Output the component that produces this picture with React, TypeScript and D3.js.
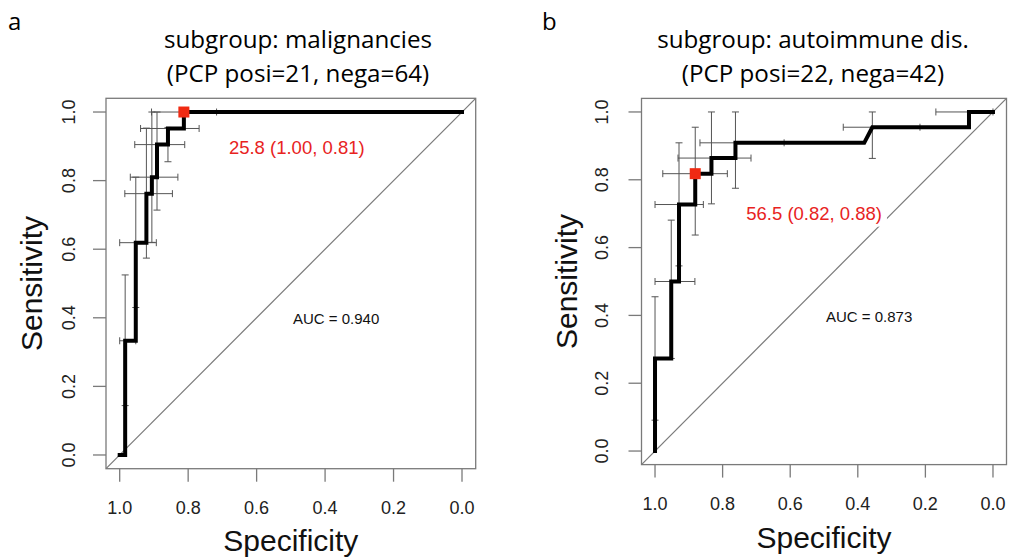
import React from 'react';
import * as d3 from 'd3';

// ---------- data ----------
const specTicks = [1.0, 0.8, 0.6, 0.4, 0.2, 0.0];
const sensTicks = [0.0, 0.2, 0.4, 0.6, 0.8, 1.0];
const tickLabels = ['0.0', '0.2', '0.4', '0.6', '0.8', '1.0'];

// Panel a: malignancies
const rocASpec = [1.0, 0.984, 0.984, 0.953, 0.953, 0.922, 0.922, 0.906, 0.906, 0.891, 0.891, 0.859, 0.859, 0.8125, 0.8125, 0.0];
const rocASens = [0.0, 0.0, 0.333, 0.333, 0.619, 0.619, 0.762, 0.762, 0.810, 0.810, 0.905, 0.905, 0.952, 0.952, 1.0, 1.0];
const ciASp = [0.8125, 0.859, 0.891, 0.906, 0.922, 0.953, 0.984];
const ciASe = [1.0, 0.952, 0.905, 0.810, 0.762, 0.619, 0.333];
const ciASpLo = [0.717, 0.768, 0.810, 0.830, 0.846, 0.893, 0.953];
const ciASpHi = [0.907, 0.939, 0.956, 0.969, 0.985, 1.0, 1.0];
const ciASeLo = [1.0, 0.855, 0.714, 0.62, 0.574, 0.43, 0.144];
const ciASeHi = [1.0, 0.955, 1.0, 1.0, 0.953, 0.81, 0.525];
const bestA = { spec: 0.8125, sens: 1.0, label: '25.8 (1.00, 0.81)' };
const aucA = 'AUC = 0.940';
const titleA = ['subgroup: malignancies', '(PCP posi=21, nega=64)'];

// Panel b: autoimmune
const rocBSpec = [1.0, 1.0, 0.952, 0.952, 0.929, 0.929, 0.881, 0.881, 0.833, 0.833, 0.762, 0.762, 0.381, 0.357, 0.071, 0.071, 0.0];
const rocBSens = [0.0, 0.273, 0.273, 0.5, 0.5, 0.727, 0.727, 0.818, 0.818, 0.864, 0.864, 0.909, 0.909, 0.955, 0.955, 1.0, 1.0];
const ciBSp = [0.071, 0.357, 0.762, 0.833, 0.881, 0.929, 0.952, 1.0];
const ciBSe = [1.0, 0.955, 0.909, 0.864, 0.818, 0.727, 0.5, 0.273];
const ciBSpLo = [0.0, 0.216, 0.618, 0.716, 0.786, 0.857, 0.882, 1.0];
const ciBSpHi = [0.169, 0.443, 0.867, 0.932, 0.977, 1.0, 1.0, 1.0];
const ciBSeLo = [1.0, 0.863, 0.775, 0.729, 0.637, 0.546, 0.273, 0.091];
const ciBSeHi = [1.0, 1.0, 1.0, 1.0, 0.955, 0.909, 0.681, 0.455];
const bestB = { spec: 0.881, sens: 0.818, label: '56.5 (0.82, 0.88)' };
const aucB = 'AUC = 0.873';
const titleB = ['subgroup: autoimmune dis.', '(PCP posi=22, nega=42)'];

// ---------- drawing ----------
const ARIAL = '"Liberation Sans", Arial, sans-serif';
const TITLE_FONT = '"Open Sans", Lato, sans-serif';

type PanelProps = {
  letter: string; letterX: number;
  title: string[]; titleCx: number;
  left: number; right: number; top: number; bottom: number;
  rocSpec: number[]; rocSens: number[];
  ciSp: number[]; ciSe: number[]; ciSpLo: number[]; ciSpHi: number[]; ciSeLo: number[]; ciSeHi: number[];
  best: { spec: number; sens: number; label: string };
  bestDx: number; bestDy: number;
  auc: string; aucX: number; aucY: number;
  xLabY: number; tickLabY: number; yLabX: number; yTickLabX: number;
};

function Panel(p: PanelProps) {
  const x = d3.scaleLinear().domain([1.04, -0.04]).range([p.left, p.right]);
  const y = d3.scaleLinear().domain([-0.04, 1.04]).range([p.bottom, p.top]);
  const pts: [number, number][] = p.rocSpec.map((s, i) => [s, p.rocSens[i]]);
  const line = d3.line<[number, number]>().x(d => x(d[0])).y(d => y(d[1]));
  const gray = '#7a7a7a';
  const barCol = '#555';
  const cap = 3.5;
  const midY = (y(0) + y(1)) / 2;
  const midX = (x(0) + x(1)) / 2;
  const lx = x(p.best.spec) + p.bestDx;
  const ly = y(p.best.sens) + p.bestDy;
  const lw = p.best.label.length * 8.1;
  return (
    <g>
      <text x={p.letterX} y={30} fontFamily={TITLE_FONT} fontSize={24} fill="#000">{p.letter}</text>
      <text x={p.titleCx} y={48} textAnchor="middle" fontFamily={TITLE_FONT} fontSize={24.2} fill="#000">{p.title[0]}</text>
      <text x={p.titleCx} y={81.5} textAnchor="middle" fontFamily={TITLE_FONT} fontSize={24.2} fill="#000">{p.title[1]}</text>
      {/* box */}
      <rect x={p.left} y={p.top} width={p.right - p.left} height={p.bottom - p.top} fill="none" stroke={gray} strokeWidth={1.3} />
      {/* diagonal */}
      <line x1={x(1.04)} y1={y(-0.04)} x2={x(-0.04)} y2={y(1.04)} stroke={gray} strokeWidth={1.2} />
      {/* x ticks */}
      {specTicks.map(t => (
        <g key={'xt' + t}>
          <line x1={x(t)} x2={x(t)} y1={p.bottom} y2={p.bottom + 13} stroke={gray} strokeWidth={1.3} />
          <text x={x(t)} y={p.tickLabY} textAnchor="middle" fontFamily={ARIAL} fontSize={18} fill="#222">{t.toFixed(1)}</text>
        </g>
      ))}
      {/* y ticks */}
      {sensTicks.map((t, i) => (
        <g key={'yt' + t}>
          <line x1={p.left} x2={p.left - 13} y1={y(t)} y2={y(t)} stroke={gray} strokeWidth={1.3} />
          <text transform={`translate(${p.yTickLabX},${y(t)}) rotate(-90)`} textAnchor="middle" fontFamily={ARIAL} fontSize={18} fill="#222">{tickLabels[i]}</text>
        </g>
      ))}
      <text x={midX} y={p.xLabY} textAnchor="middle" fontFamily={ARIAL} fontSize={30} fill="#111">Specificity</text>
      <text transform={`translate(${p.yLabX},${midY}) rotate(-90)`} textAnchor="middle" fontFamily={ARIAL} fontSize={30} fill="#111">Sensitivity</text>
      {/* best threshold label with white background */}
      <rect x={lx - 3} y={ly - 17} width={lw + 6} height={24} fill="#fff" />
      <text x={lx} y={ly} fontFamily={ARIAL} fontSize={18.5} fill="#e8231e">{p.best.label}</text>
      <text x={p.aucX} y={p.aucY} fontFamily={ARIAL} fontSize={15} fill="#111">{p.auc}</text>
      {/* CI bars */}
      {p.ciSp.map((s, i) => {
        const cy = y(p.ciSe[i]);
        const cx = x(s);
        const hasH = p.ciSpLo[i] !== p.ciSpHi[i];
        const hasV = p.ciSeLo[i] !== p.ciSeHi[i];
        return (
          <g key={'ci' + i} stroke={barCol} strokeWidth={1}>
            {hasH && <>
              <line x1={x(p.ciSpLo[i])} x2={x(p.ciSpHi[i])} y1={cy} y2={cy} />
              <line x1={x(p.ciSpLo[i])} x2={x(p.ciSpLo[i])} y1={cy - cap} y2={cy + cap} />
              <line x1={x(p.ciSpHi[i])} x2={x(p.ciSpHi[i])} y1={cy - cap} y2={cy + cap} />
            </>}
            {hasV && <>
              <line x1={cx} x2={cx} y1={y(p.ciSeLo[i])} y2={y(p.ciSeHi[i])} />
              <line x1={cx - cap} x2={cx + cap} y1={y(p.ciSeLo[i])} y2={y(p.ciSeLo[i])} />
              <line x1={cx - cap} x2={cx + cap} y1={y(p.ciSeHi[i])} y2={y(p.ciSeHi[i])} />
            </>}
          </g>
        );
      })}
      {/* ROC curve */}
      <path d={line(pts) || ''} fill="none" stroke="#000" strokeWidth={4} strokeLinejoin="miter" strokeLinecap="square" />
      <rect x={x(p.best.spec) - 5.5} y={y(p.best.sens) - 5.5} width={11} height={11} fill="#f02a12" />
    </g>
  );
}

export default function App() {
  return (
    <svg width={1010} height={558} style={{ position: 'absolute', left: 0, top: 0, background: '#fff' }}>
      <rect x={0} y={0} width={1010} height={558} fill="#fff" />
      <Panel letter="a" letterX={8} title={titleA} titleCx={298}
        left={106} right={475.7} top={98.3} bottom={468.7}
        rocSpec={rocASpec} rocSens={rocASens}
        ciSp={ciASp} ciSe={ciASe} ciSpLo={ciASpLo} ciSpHi={ciASpHi} ciSeLo={ciASeLo} ciSeHi={ciASeHi}
        best={bestA} bestDx={45} bestDy={41.5}
        auc={aucA} aucX={293} aucY={324}
        xLabY={551} tickLabY={514} yLabX={42} yTickLabX={75} />
      <Panel letter="b" letterX={542} title={titleB} titleCx={813}
        left={641.5} right={1006.5} top={98.4} bottom={464.6}
        rocSpec={rocBSpec} rocSens={rocBSens}
        ciSp={ciBSp} ciSe={ciBSe} ciSpLo={ciBSpLo} ciSpHi={ciBSpHi} ciSeLo={ciBSeLo} ciSeHi={ciBSeHi}
        best={bestB} bestDx={51} bestDy={46}
        auc={aucB} aucX={826} aucY={322}
        xLabY={548} tickLabY={510} yLabX={577} yTickLabX={608} />
    </svg>
  );
}
